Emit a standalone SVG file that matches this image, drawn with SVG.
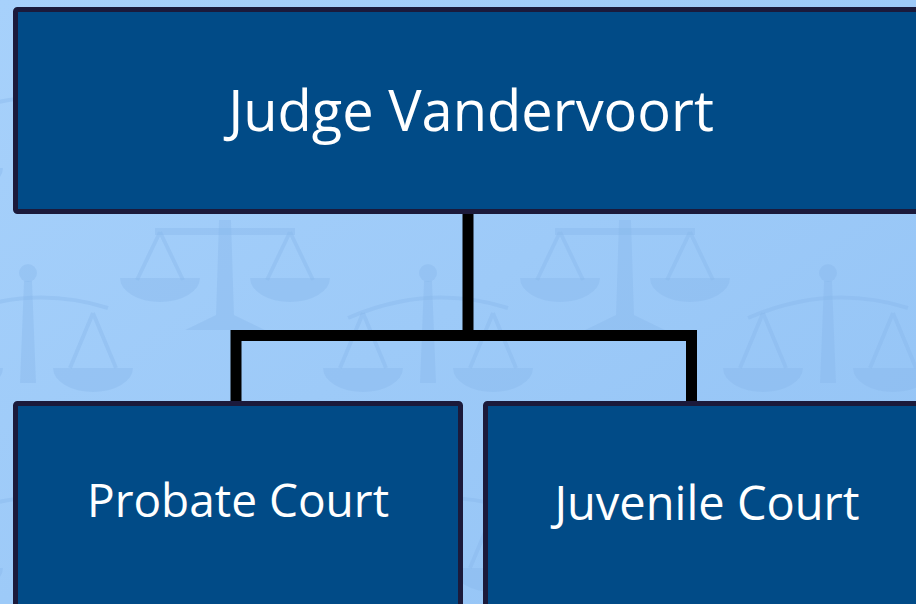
<svg xmlns="http://www.w3.org/2000/svg" width="916" height="604" viewBox="0 0 916 604">
  <style>
    .box { fill: #014b87; stroke: #1b1a3b; stroke-width: 5; }
    .lbl { fill: #ffffff; font-family: "Open Sans", "Noto Sans", "Liberation Sans", sans-serif; text-anchor: middle; }
    .conn { fill: none; stroke: #000000; stroke-width: 11; stroke-linejoin: miter; stroke-linecap: butt; }
    .wm { fill: #86b7ea; opacity: 0.4; }
    .wms { fill: none; stroke: #86b7ea; stroke-width: 4; opacity: 0.4; }
  </style>
  <defs>
    <linearGradient id="bg" x1="0" y1="0" x2="1" y2="1">
      <stop offset="0" stop-color="#a7d1fb"/>
      <stop offset="1" stop-color="#93c3f5"/>
    </linearGradient>
    <g id="scaleA">
      <path class="wm" d="M-6 0 L6 0 L9 95 L40 110 L-40 110 L-9 95 Z"/>
      <rect class="wm" x="-70" y="8" width="140" height="7"/>
      <path class="wms" d="M-65 12 L-88 60 M-65 12 L-42 60 M65 12 L42 60 M65 12 L88 60"/>
      <path class="wm" d="M-105 58 L-25 58 A40 24 0 0 1 -105 58 Z"/>
      <path class="wm" d="M25 58 L105 58 A40 24 0 0 1 25 58 Z"/>
    </g>
    <g id="scaleB">
      <circle class="wm" cx="0" cy="0" r="9"/>
      <path class="wm" d="M-4 8 L4 8 L8 110 L-8 110 Z"/>
      <path class="wms" d="M-80 45 Q0 10 80 35"/>
      <path class="wms" d="M65 40 L42 95 M65 40 L88 95 M-65 40 L-88 95 M-65 40 L-42 95"/>
      <path class="wm" d="M25 95 L105 95 A40 24 0 0 1 25 95 Z"/>
      <path class="wm" d="M-105 95 L-25 95 A40 24 0 0 1 -105 95 Z"/>
    </g>
    <pattern id="wmPat" x="0" y="0" width="400" height="200" patternUnits="userSpaceOnUse">
      <use href="#scaleA" x="225" y="20"/>
      <use href="#scaleA" x="225" y="-180"/>
      <use href="#scaleB" x="28" y="73"/>
      <use href="#scaleB" x="428" y="73"/>
      <use href="#scaleB" x="28" y="-127"/>
      <use href="#scaleB" x="428" y="-127"/>
    </pattern>
  </defs>

  <rect x="0" y="0" width="916" height="604" fill="url(#bg)"/>
  <rect x="0" y="0" width="916" height="604" fill="url(#wmPat)"/>

  <g id="connectors">
    <path class="conn" d="M468 211 V335.5"/>
    <path class="conn" d="M236 404 V335.5 H691.5 V404"/>
  </g>

  <g id="node-judge">
    <rect class="box" x="15.5" y="9.5" width="930" height="202" rx="2"/>
    <text class="lbl" x="471" y="131" font-size="56">Judge Vandervoort</text>
  </g>

  <g id="node-probate">
    <rect class="box" x="15.5" y="403.5" width="445" height="230" rx="2"/>
    <text class="lbl" x="238" y="517" font-size="46">Probate Court</text>
  </g>

  <g id="node-juvenile">
    <rect class="box" x="485.5" y="403.5" width="460" height="230" rx="2"/>
    <text class="lbl" x="707" y="520" font-size="47">Juvenile Court</text>
  </g>
</svg>
